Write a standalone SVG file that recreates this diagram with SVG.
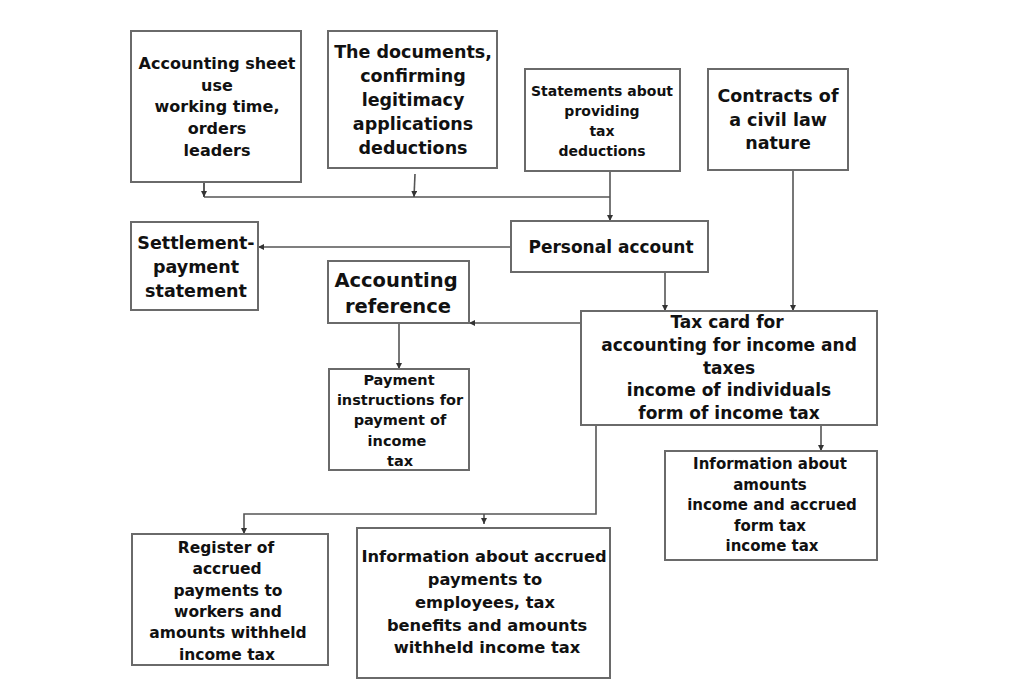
<svg xmlns="http://www.w3.org/2000/svg" width="1011" height="692" viewBox="0 0 1011 692">
<style>
.box{fill:#fff;stroke:#6a6a6a;stroke-width:2}
.t{font-family:"DejaVu Sans",sans-serif;font-weight:bold;fill:#111;text-anchor:middle}
.c{fill:none;stroke:#555;stroke-width:1.6}
</style>
<defs>
<marker id="ah" viewBox="0 0 10 10" refX="10" refY="5" markerWidth="6" markerHeight="6" orient="auto" markerUnits="userSpaceOnUse">
<path d="M0,0 L10,5 L0,10 z" fill="#333"/>
</marker>
</defs>
<rect width="1011" height="692" fill="#fff"/>
<g id="connectors">
<path class="c" d="M204,182 V197 M204,197 H610"/>
<path class="c" d="M204,182 V197" marker-end="url(#ah)"/>
<path class="c" d="M415,174 L414,197" marker-end="url(#ah)"/>
<path class="c" d="M610,171 V221" marker-end="url(#ah)"/>
<path class="c" d="M511,247 H258" marker-end="url(#ah)"/>
<path class="c" d="M665,272 V311" marker-end="url(#ah)"/>
<path class="c" d="M793,170 V311" marker-end="url(#ah)"/>
<path class="c" d="M581,323 H469" marker-end="url(#ah)"/>
<path class="c" d="M399,323 V369" marker-end="url(#ah)"/>
<path class="c" d="M821,425 V451" marker-end="url(#ah)"/>
<path class="c" d="M596,425 V514 H244 V534" marker-end="url(#ah)"/>
<path class="c" d="M484,514 V524" marker-end="url(#ah)"/>
</g>
<g id="n1"><rect class="box" x="131" y="31" width="170" height="151"/>
<text class="t" font-size="16"><tspan x="217" y="69">Accounting sheet</tspan><tspan x="217" y="91">use</tspan><tspan x="217" y="112">working time,</tspan><tspan x="217" y="134">orders</tspan><tspan x="217" y="156">leaders</tspan></text></g>
<g id="n2"><rect class="box" x="328" y="31" width="169" height="137"/>
<text class="t" font-size="17.5"><tspan x="413" y="58">The documents,</tspan><tspan x="413" y="82">confirming</tspan><tspan x="413" y="106">legitimacy</tspan><tspan x="413" y="130">applications</tspan><tspan x="413" y="154">deductions</tspan></text></g>
<g id="n3"><rect class="box" x="525" y="69" width="155" height="102"/>
<text class="t" font-size="14"><tspan x="602" y="96">Statements about</tspan><tspan x="602" y="116">providing</tspan><tspan x="602" y="136">tax</tspan><tspan x="602" y="156">deductions</tspan></text></g>
<g id="n4"><rect class="box" x="708" y="69" width="140" height="101"/>
<text class="t" font-size="17.5"><tspan x="778" y="102">Contracts of</tspan><tspan x="778" y="126">a civil law</tspan><tspan x="778" y="149">nature</tspan></text></g>
<g id="n5"><rect class="box" x="511" y="221" width="197" height="51"/>
<text class="t" font-size="17"><tspan x="611" y="253">Personal account</tspan></text></g>
<g id="n6"><rect class="box" x="131" y="222" width="127" height="88"/>
<text class="t" font-size="17.5"><tspan x="196" y="249">Settlement-</tspan><tspan x="196" y="273">payment</tspan><tspan x="196" y="297">statement</tspan></text></g>
<g id="n7"><rect class="box" x="328" y="261" width="141" height="62"/>
<text class="t" font-size="19.5"><tspan x="396" y="287">Accounting</tspan><tspan x="398" y="313">reference</tspan></text></g>
<g id="n8"><rect class="box" x="581" y="311" width="296" height="114"/>
<text class="t" font-size="17"><tspan x="727" y="328">Tax card for</tspan><tspan x="729" y="351">accounting for income and</tspan><tspan x="729" y="374">taxes</tspan><tspan x="729" y="396">income of individuals</tspan><tspan x="729" y="419">form of income tax</tspan></text></g>
<g id="n9"><rect class="box" x="329" y="369" width="140" height="101"/>
<text class="t" font-size="14.5"><tspan x="399" y="385">Payment</tspan><tspan x="400" y="405">instructions for</tspan><tspan x="400" y="425">payment of</tspan><tspan x="397" y="446">income</tspan><tspan x="400" y="466">tax</tspan></text></g>
<g id="n10"><rect class="box" x="665" y="451" width="212" height="109"/>
<text class="t" font-size="15"><tspan x="770" y="469">Information about</tspan><tspan x="770" y="490">amounts</tspan><tspan x="772" y="510">income and accrued</tspan><tspan x="770" y="531">form tax</tspan><tspan x="772" y="551">income tax</tspan></text></g>
<g id="n11"><rect class="box" x="132" y="534" width="196" height="131"/>
<text class="t" font-size="15.5"><tspan x="226" y="553">Register of</tspan><tspan x="227" y="574">accrued</tspan><tspan x="228" y="596">payments to</tspan><tspan x="228" y="617">workers and</tspan><tspan x="228" y="638">amounts withheld</tspan><tspan x="227" y="660">income tax</tspan></text></g>
<g id="n12"><rect class="box" x="357" y="528" width="253" height="150"/>
<text class="t" font-size="16.3"><tspan x="484" y="562">Information about accrued</tspan><tspan x="485" y="585">payments to</tspan><tspan x="485" y="608">employees, tax</tspan><tspan x="487" y="631">benefits and amounts</tspan><tspan x="487" y="653">withheld income tax</tspan></text></g>
</svg>
